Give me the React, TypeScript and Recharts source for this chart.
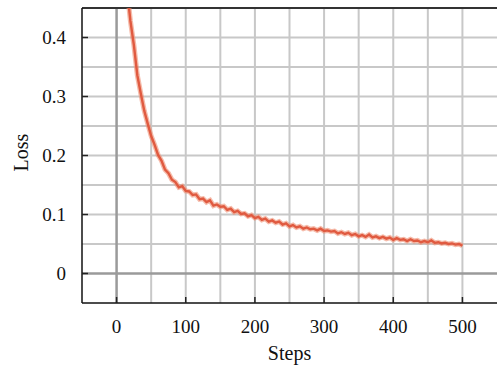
import React from 'react';
import { LineChart, Line, XAxis, YAxis, ReferenceLine, Label } from 'recharts';

const steps = [
  15, 20, 25, 30, 35, 40, 45, 50, 55, 60, 65, 70, 75, 80, 85, 90, 95, 100,
  105, 110, 115, 120, 125, 130, 135, 140, 145, 150, 155, 160, 165, 170, 175, 180,
  185, 190, 195, 200, 205, 210, 215, 220, 225, 230, 235, 240, 245, 250, 255, 260,
  265, 270, 275, 280, 285, 290, 295, 300, 305, 310, 315, 320, 325, 330, 335, 340,
  345, 350, 355, 360, 365, 370, 375, 380, 385, 390, 395, 400, 405, 410, 415, 420,
  425, 430, 435, 440, 445, 450, 455, 460, 465, 470, 475, 480, 485, 490, 495, 500,
];

const loss = [
  0.482, 0.428, 0.387, 0.336, 0.305, 0.276, 0.254, 0.233, 0.218, 0.201, 0.191, 0.176, 0.17, 0.159, 0.155, 0.146, 0.148, 0.14,
  0.139, 0.133, 0.134, 0.126, 0.127, 0.121, 0.124, 0.115, 0.117, 0.113, 0.114, 0.108, 0.11, 0.104, 0.106, 0.101,
  0.102, 0.097, 0.099, 0.094, 0.096, 0.091, 0.093, 0.088, 0.09, 0.086, 0.088, 0.083, 0.085, 0.08, 0.082, 0.078,
  0.08, 0.076, 0.078, 0.075, 0.076, 0.073, 0.076, 0.072, 0.073, 0.071, 0.072, 0.068, 0.07, 0.067, 0.069, 0.065,
  0.067, 0.063, 0.065, 0.062, 0.066, 0.061, 0.063, 0.06, 0.062, 0.059, 0.061, 0.057, 0.06, 0.057, 0.058, 0.055,
  0.058, 0.055, 0.056, 0.053, 0.055, 0.053, 0.056, 0.052, 0.053, 0.051, 0.052, 0.05, 0.051, 0.049, 0.05, 0.047,
];

const xTicks = [0, 100, 200, 300, 400, 500];
const yTicks = [0, 0.1, 0.2, 0.3, 0.4];
const xGrid = [50, 100, 150, 200, 250, 300, 350, 400, 450, 500];
const yGrid = [0.05, 0.1, 0.15, 0.2, 0.25, 0.3, 0.35, 0.4];

const data = steps.map((s, i) => ({ step: s, loss: loss[i] }));

const FONT = '"Liberation Serif", "Times New Roman", serif';

const XTick = (props: any) => {
  const { x, y, payload } = props;
  return (
    <g>
      <line x1={x} y1={y} x2={x} y2={y - 6} stroke="#222" strokeWidth={1.5} />
      <text x={x} y={y + 30} textAnchor="middle" style={{ fontFamily: FONT, fontSize: 19 }} fill="#111">
        {payload.value}
      </text>
    </g>
  );
};

const YTick = (props: any) => {
  const { x, y, payload } = props;
  return (
    <g>
      <line x1={x} y1={y} x2={x + 6} y2={y} stroke="#222" strokeWidth={1.5} />
      <text x={x - 16} y={y + 6.5} textAnchor="end" style={{ fontFamily: FONT, fontSize: 19 }} fill="#111">
        {payload.value}
      </text>
    </g>
  );
};

export default function App() {
  return (
    <div style={{ position: 'absolute', left: 0, top: 0, background: '#fff' }}>
      <LineChart width={497} height={367} data={data} margin={{ top: 8, right: 0, bottom: 0, left: 0 }}>
        {xGrid.map((v) => (
          <ReferenceLine key={`gx-${v}`} x={v} stroke="#c8c8c8" strokeWidth={2} />
        ))}
        {yGrid.map((v) => (
          <ReferenceLine key={`gy-${v}`} y={v} stroke="#c8c8c8" strokeWidth={2} />
        ))}
        <ReferenceLine x={0} stroke="#9a9a9a" strokeWidth={2.5} />
        <ReferenceLine y={0} stroke="#9a9a9a" strokeWidth={2.5} />
        <ReferenceLine y={0.45} stroke="#333" strokeWidth={2} />
        <XAxis
          dataKey="step"
          type="number"
          domain={[-50, 550]}
          ticks={xTicks}
          interval={0}
          allowDataOverflow
          height={64}
          tickSize={0}
          tickMargin={0}
          tickLine={false}
          tick={<XTick />}
          axisLine={{ stroke: '#111', strokeWidth: 1.5 }}
        >
          <Label
            content={({ viewBox }: any) => (
              <text x={viewBox.x + viewBox.width / 2} y={viewBox.y + 57} textAnchor="middle" style={{ fontFamily: FONT, fontSize: 20 }} fill="#111">
                Steps
              </text>
            )}
          />
        </XAxis>
        <YAxis
          type="number"
          domain={[-0.05, 0.45]}
          ticks={yTicks}
          interval={0}
          allowDataOverflow
          width={82}
          tickSize={0}
          tickMargin={0}
          tickLine={false}
          tick={<YTick />}
          axisLine={{ stroke: '#111', strokeWidth: 1.5 }}
        >
          <Label
            content={({ viewBox }: any) => {
              const cx = 28;
              const cy = viewBox.y + viewBox.height / 2 - 3;
              return (
                <text x={cx} y={cy} transform={`rotate(-90, ${cx}, ${cy})`} textAnchor="middle" style={{ fontFamily: FONT, fontSize: 20 }} fill="#111">
                  Loss
                </text>
              );
            }}
          />
        </YAxis>
        <Line dataKey="loss" stroke="#ee8d72" strokeOpacity={0.6} strokeWidth={5} dot={false} isAnimationActive={false} />
        <Line dataKey="loss" stroke="#e05a40" strokeWidth={2.4} dot={false} isAnimationActive={false} />
      </LineChart>
    </div>
  );
}
